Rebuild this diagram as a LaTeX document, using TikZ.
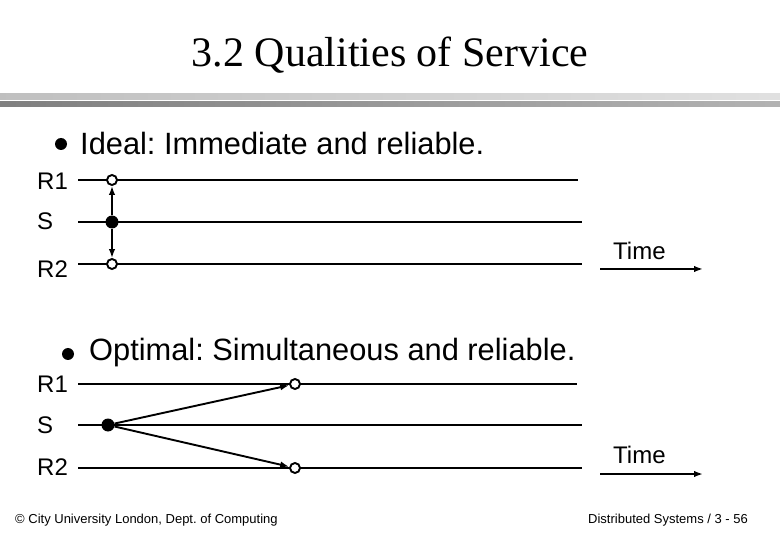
\documentclass[tikz,border=0pt]{standalone}
\usepackage{fontspec}
\setmainfont{Liberation Serif}
\newfontfamily\arialf{Liberation Sans}
\usetikzlibrary{arrows.meta}
\frenchspacing
\begin{document}
\begin{tikzpicture}[x=1pt,y=-1pt,
  lbl/.style={inner sep=0pt,anchor=base west,font=\arialf\fontsize{24}{26}\selectfont},
  head/.style={inner sep=0pt,anchor=base west,font=\arialf\fontsize{30.8}{32}\selectfont},
  foot/.style={inner sep=0pt,anchor=base west,font=\arialf\fontsize{13}{15}\selectfont},
  tl/.style={line width=2.2pt},
  msg/.style={line width=1.9pt,-{Latex[length=9pt,width=6.5pt]}},
  recv/.style={circle,draw,line width=1.9pt,fill=white,minimum size=10pt,inner sep=0pt},
  send/.style={circle,fill=black,minimum size=13pt,inner sep=0pt},
  bul/.style={circle,fill=black,minimum size=12pt,inner sep=0pt}]
\useasboundingbox (0,0) rectangle (780,540);
% title
\node[inner sep=0pt,anchor=base,font=\fontsize{42}{46}\selectfont] (title) at (390,67) {3.2 Qualities of Service};
% bars
\shade[left color=black!25,right color=black!12] (0,94) rectangle (780,100);
\shade[left color=black!50,right color=black!30] (0,102) rectangle (780,107);
% section 1
\node[bul] (b1) at (61,144) {};
\node[head] (h1) at (80,155) {Ideal: Immediate and reliable.};
\node[lbl] (r1a) at (37,190) {R1};
\node[lbl] (sa) at (37,230) {S};
\node[lbl] (r2a) at (37,278) {R2};
\coordinate (r1aS) at (78,180); \coordinate (r1aE) at (578,180);
\coordinate (saS) at (78,222); \coordinate (saE) at (582,222);
\coordinate (r2aS) at (78,264); \coordinate (r2aE) at (582,264);
\draw[tl] (r1aS) -- (r1aE);
\draw[tl] (saS) -- (saE);
\draw[tl] (r2aS) -- (r2aE);
\node[send] (s1) at (112,222) {};
\node[recv] (c1a) at (112,180) {};
\node[recv] (c2a) at (112,264) {};
\draw[msg] (s1) -- (c1a);
\draw[msg] (s1) -- (c2a);
\node[lbl] (t1) at (613,260) {Time};
\coordinate (ta1) at (600,269); \coordinate (tb1) at (703,269);
\draw[msg] (ta1) -- (tb1);
% section 2
\node[bul] (b2) at (68,354) {};
\node[head] (h2) at (89,361) {Optimal: Simultaneous and reliable.};
\node[lbl] (r1b) at (37,392) {R1};
\node[lbl] (sb) at (37,433) {S};
\node[lbl] (r2b) at (37,475) {R2};
\coordinate (r1bS) at (78,384); \coordinate (r1bE) at (577,384);
\coordinate (sbS) at (78,425); \coordinate (sbE) at (582,425);
\coordinate (r2bS) at (78,468); \coordinate (r2bE) at (582,468);
\draw[tl] (r1bS) -- (r1bE);
\draw[tl] (sbS) -- (sbE);
\draw[tl] (r2bS) -- (r2bE);
\node[send] (s2) at (108,425) {};
\node[recv] (c1b) at (295,384) {};
\node[recv] (c2b) at (295,468) {};
\draw[msg] (s2) -- (c1b);
\draw[msg] (s2) -- (c2b);
\node[lbl] (t2) at (613,463) {Time};
\coordinate (ta2) at (600,474); \coordinate (tb2) at (703,474);
\draw[msg] (ta2) -- (tb2);
% footer
\node[foot] (f1) at (15,523) {© City University London, Dept. of Computing};
\node[foot] (f2) at (588,523) {Distributed Systems / 3 - 56};
\end{tikzpicture}
\end{document}
